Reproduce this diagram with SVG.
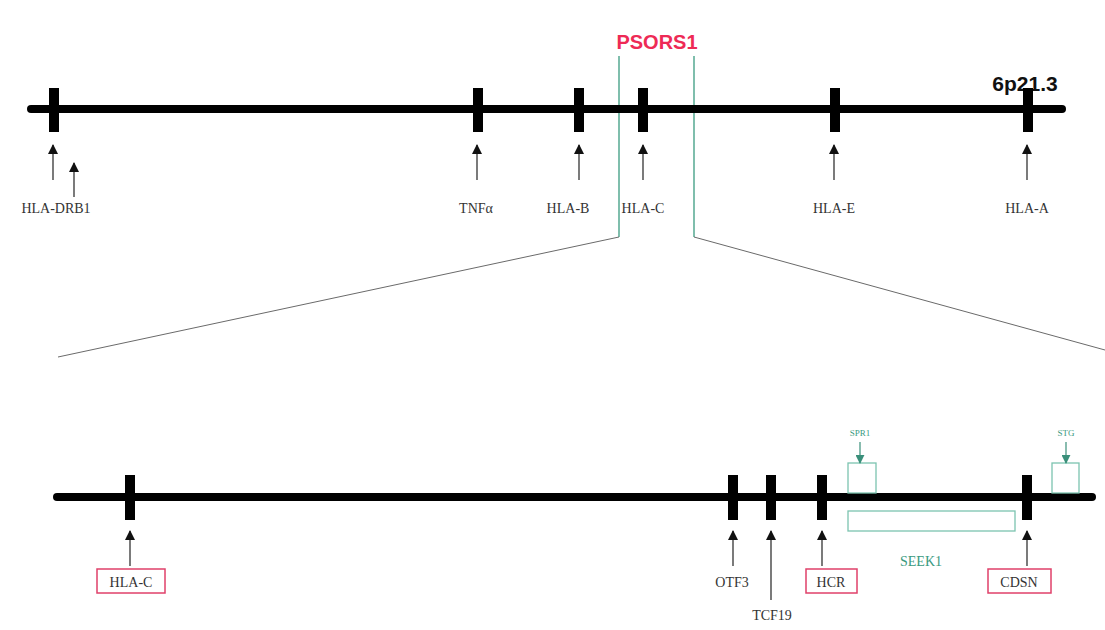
<svg xmlns="http://www.w3.org/2000/svg" width="1105" height="630" viewBox="0 0 1105 630">
<defs>
<marker id="ah" viewBox="0 0 10 10" refX="9" refY="5" markerWidth="11" markerHeight="10" markerUnits="userSpaceOnUse" orient="auto">
<path d="M0,0 L10,5 L0,10 Z" fill="#111"/>
</marker>
<marker id="ahg" viewBox="0 0 10 10" refX="9" refY="5" markerWidth="9" markerHeight="9" markerUnits="userSpaceOnUse" orient="auto">
<path d="M0,0 L10,5 L0,10 Z" fill="#3a8f7a"/>
</marker>
<style>
.chr{stroke:#000;stroke-width:8;stroke-linecap:round;fill:none}
.tick{fill:#000}
.arr{stroke:#333;stroke-width:1.3;fill:none}
.lbl{font-family:"Liberation Serif",serif;font-size:14px;fill:#333;text-anchor:middle}
.box{fill:none;stroke:#e0406a;stroke-width:1.5}
.gbox{fill:#fff;stroke:#7cc4b0;stroke-width:1.3}
.gl{stroke:#5fae98;stroke-width:1.6;fill:none}
.dl{stroke:#6a6a6a;stroke-width:1;fill:none}
.gt{font-family:"Liberation Serif",serif;fill:#3a9a80;text-anchor:middle}
</style>
</defs>

<g id="titles">
<text x="657" y="49" font-family="Liberation Sans,Arial,sans-serif" font-weight="bold" font-size="20" fill="#ee2a55" text-anchor="middle">PSORS1</text>
<text x="1025" y="91" font-family="Liberation Sans,Arial,sans-serif" font-weight="bold" font-size="21" fill="#111" text-anchor="middle">6p21.3</text>
</g>

<g id="connectors">
<line class="gl" x1="619" y1="56" x2="619" y2="237"/>
<line class="gl" x1="694" y1="56" x2="694" y2="237"/>
<line class="dl" x1="619" y1="237" x2="58" y2="357"/>
<line class="dl" x1="694" y1="237" x2="1105" y2="350"/>
</g>

<g id="top-chromosome">
<line class="chr" x1="31" y1="109" x2="1062" y2="109"/>
<rect class="tick" x="49" y="88" width="10" height="44"/>
<rect class="tick" x="473" y="88" width="10" height="44"/>
<rect class="tick" x="574" y="88" width="10" height="44"/>
<rect class="tick" x="638" y="88" width="10" height="44"/>
<rect class="tick" x="830" y="88" width="10" height="44"/>
<rect class="tick" x="1023" y="88" width="10" height="44"/>
</g>

<g id="top-labels">
<g id="n-hla-drb1">
<line class="arr" x1="53" y1="180" x2="53" y2="145" marker-end="url(#ah)"/>
<line class="arr" x1="74" y1="197" x2="74" y2="163" marker-end="url(#ah)"/>
<text class="lbl" x="56" y="213">HLA-DRB1</text>
</g>
<g id="n-tnfa">
<line class="arr" x1="477" y1="180" x2="477" y2="145" marker-end="url(#ah)"/>
<text class="lbl" x="476" y="213">TNFα</text>
</g>
<g id="n-hla-b">
<line class="arr" x1="579" y1="180" x2="579" y2="145" marker-end="url(#ah)"/>
<text class="lbl" x="568" y="213">HLA-B</text>
</g>
<g id="n-hla-c-top">
<line class="arr" x1="643" y1="180" x2="643" y2="145" marker-end="url(#ah)"/>
<text class="lbl" x="643" y="213">HLA-C</text>
</g>
<g id="n-hla-e">
<line class="arr" x1="834" y1="180" x2="834" y2="145" marker-end="url(#ah)"/>
<text class="lbl" x="834" y="213">HLA-E</text>
</g>
<g id="n-hla-a">
<line class="arr" x1="1027" y1="180" x2="1027" y2="145" marker-end="url(#ah)"/>
<text class="lbl" x="1027" y="213">HLA-A</text>
</g>
</g>

<g id="bottom-chromosome">
<line class="chr" x1="57" y1="497" x2="1092" y2="497"/>
<rect class="tick" x="125" y="475" width="10" height="45"/>
<rect class="tick" x="728" y="475" width="10" height="45"/>
<rect class="tick" x="766" y="475" width="10" height="45"/>
<rect class="tick" x="817" y="475" width="10" height="45"/>
<rect class="tick" x="1022" y="475" width="10" height="45"/>
</g>

<g id="green-features">
<g id="n-spr1">
<rect class="gbox" x="848" y="463" width="28" height="30"/>
<line x1="860" y1="442" x2="860" y2="463" stroke="#3a8f7a" stroke-width="1.2" marker-end="url(#ahg)"/>
<text class="gt" x="860" y="436" font-size="9">SPR1</text>
</g>
<g id="n-stg">
<rect class="gbox" x="1052" y="463" width="27" height="30"/>
<line x1="1066" y1="442" x2="1066" y2="463" stroke="#3a8f7a" stroke-width="1.2" marker-end="url(#ahg)"/>
<text class="gt" x="1066" y="436" font-size="9">STG</text>
</g>
<g id="n-seek1">
<rect class="gbox" x="848" y="511" width="167" height="20"/>
<text class="gt" x="921" y="566" font-size="14">SEEK1</text>
</g>
</g>

<g id="bottom-labels">
<g id="n-hla-c">
<line class="arr" x1="130" y1="566" x2="130" y2="531" marker-end="url(#ah)"/>
<rect class="box" x="97" y="569" width="68" height="24"/>
<text class="lbl" x="131" y="587">HLA-C</text>
</g>
<g id="n-otf3">
<line class="arr" x1="733" y1="566" x2="733" y2="531" marker-end="url(#ah)"/>
<text class="lbl" x="732" y="587">OTF3</text>
</g>
<g id="n-tcf19">
<line class="arr" x1="771" y1="600" x2="771" y2="531" marker-end="url(#ah)"/>
<text class="lbl" x="772" y="620">TCF19</text>
</g>
<g id="n-hcr">
<line class="arr" x1="822" y1="566" x2="822" y2="531" marker-end="url(#ah)"/>
<rect class="box" x="806" y="569" width="51" height="24"/>
<text class="lbl" x="831" y="587">HCR</text>
</g>
<g id="n-cdsn">
<line class="arr" x1="1027" y1="566" x2="1027" y2="531" marker-end="url(#ah)"/>
<rect class="box" x="988" y="569" width="63" height="24"/>
<text class="lbl" x="1019" y="587">CDSN</text>
</g>
</g>
</svg>
